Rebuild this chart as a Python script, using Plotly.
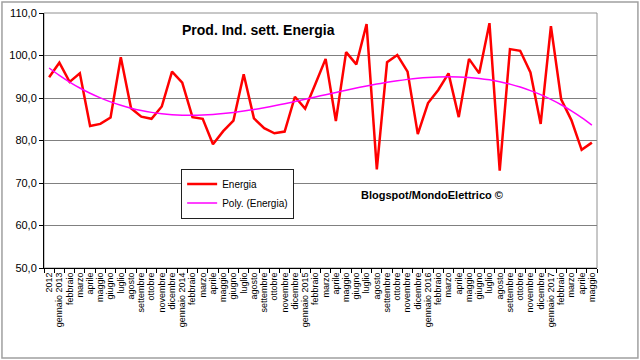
import numpy as np
import plotly.graph_objects as go

labels = ["2012", "gennaio 2013", "febbraio", "marzo", "aprile", "maggio", "giugno", "luglio",
          "agosto", "settembre", "ottobre", "novembre", "dicembre",
          "gennaio 2014", "febbraio", "marzo", "aprile", "maggio", "giugno", "luglio",
          "agosto", "settembre", "ottobre", "novembre", "dicembre",
          "gennaio 2015", "febbraio", "marzo", "aprile", "maggio", "giugno", "luglio",
          "agosto", "settembre", "ottobre", "novembre", "dicembre",
          "gennaio 2016", "febbraio", "marzo", "aprile", "maggio", "giugno", "luglio",
          "agosto", "settembre", "ottobre", "novembre", "dicembre",
          "gennaio 2017", "febbraio", "marzo", "aprile", "maggio"]

energia = [94.9, 98.3, 93.8, 95.8, 83.4, 83.9, 85.4, 99.6, 87.6, 85.6, 85.1, 88.0, 96.2,
           93.6, 85.5, 85.1, 79.1, 82.2, 84.7, 95.6, 85.2, 82.9, 81.7, 82.1, 90.3,
           87.5, 93.3, 99.2, 84.6, 100.8, 97.9, 107.4, 73.2, 98.4, 100.1, 96.2, 81.5,
           88.8, 91.9, 95.8, 85.5, 99.2, 95.8, 107.6, 72.9, 101.5, 101.1, 96.0, 83.9,
           106.9, 89.7, 84.8, 77.8, 79.5]

y_ticks = [50, 60, 70, 80, 90, 100, 110]
y_ticktext = ["50,0", "60,0", "70,0", "80,0", "90,0", "100,0", "110,0"]

x = list(range(len(energia)))
coef = np.polyfit(x, energia, 3)
trend = np.polyval(coef, x)

FONT = "Liberation Sans, Arial, sans-serif"

fig = go.Figure()
fig.add_trace(go.Scatter(x=x, y=energia, mode="lines", name="Energia",
                         line=dict(color="#FF0000", width=2.5)))
fig.add_trace(go.Scatter(x=x, y=trend, mode="lines", name="Poly. (Energia)",
                         line=dict(color="#FF00FF", width=1.5, shape="spline")))

fig.update_layout(
    width=640, height=360,
    margin=dict(l=44, r=43, t=13, b=92, autoexpand=False),
    paper_bgcolor="white", plot_bgcolor="white",
    font=dict(family=FONT, size=11, color="black"),
    showlegend=True,
    legend=dict(x=0.248, y=0.39, xanchor="left", yanchor="top",
                bgcolor="white", bordercolor="#202020", borderwidth=1,
                font=dict(family=FONT, size=10, color="black"),
                itemwidth=30, tracegroupgap=0),
    xaxis=dict(range=[-0.5, len(energia) - 0.5], tickvals=x, ticktext=labels,
               tickangle=-90, tickfont=dict(family=FONT, size=9, color="black"),
               showgrid=False, zeroline=False, showline=True, linecolor="black", linewidth=1,
               ticks="", ticklen=0, automargin=False,
               minor=dict(ticks="outside", tick0=-0.5, dtick=1, ticklen=4,
                          tickcolor="black", showgrid=False)),
    yaxis=dict(range=[50, 110], tickvals=y_ticks, ticktext=y_ticktext,
               tickfont=dict(family=FONT, size=11, color="black"),
               showgrid=True, gridcolor="#808080", gridwidth=1, zeroline=False,
               showline=True, linecolor="black", linewidth=1, automargin=False,
               ticks="outside", ticklen=4, tickcolor="black"),
)

# plot area frame (top and right)
fig.add_shape(type="rect", xref="paper", yref="paper", x0=0, x1=1, y0=0, y1=1,
              line=dict(color="#909090", width=1), layer="below")
# outer chart border
fig.add_shape(type="rect", xref="paper", yref="paper", x0=-0.076, x1=1.074, y0=-0.353, y1=1.043,
              line=dict(color="#A0A0A0", width=1.5))

fig.add_annotation(text="<b>Prod. Ind. sett. Energia</b>", xref="paper", yref="paper",
                   x=0.387, y=0.935, xanchor="center", yanchor="middle", showarrow=False,
                   font=dict(family=FONT, size=14, color="black"))
fig.add_annotation(text="<b>Blogspot/MondoElettrico ©</b>", xref="paper", yref="paper",
                   x=0.702, y=0.286, xanchor="center", yanchor="middle", showarrow=False,
                   font=dict(family=FONT, size=11, color="black"))

fig.write_html("out.html", config={"displayModeBar": False},
               post_script="document.body.style.margin='0';")
